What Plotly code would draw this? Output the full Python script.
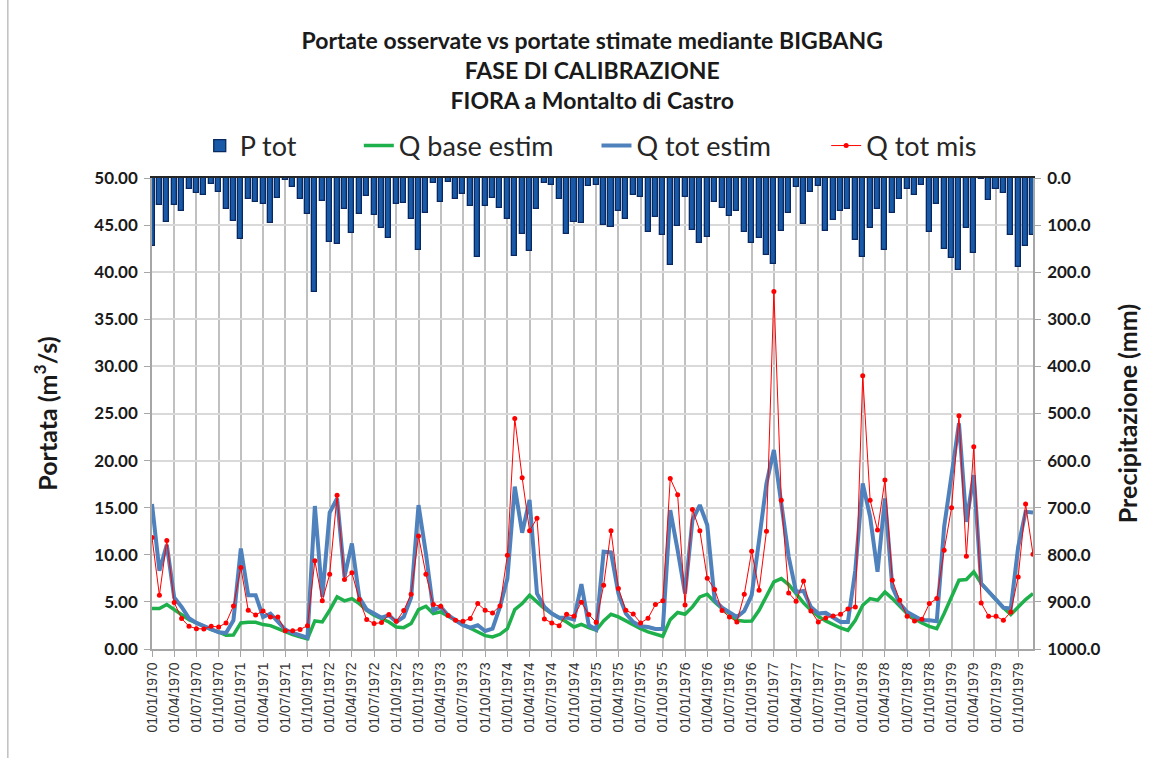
import pandas as pd
import plotly.graph_objects as go

# Monthly series, Jan 1970 - Dec 1979 (index 0..119)
months = list(range(120))

p_tot = [145, 58, 93, 57, 71, 24, 32, 36, 12, 29,
         66, 91, 129, 45, 51, 55, 96, 42, 4, 19,
         44, 76, 241, 48, 136, 141, 66, 116, 76, 39,
         78, 107, 128, 55, 54, 87, 152, 74, 10, 51,
         8, 44, 34, 59, 168, 59, 43, 63, 87, 165,
         118, 156, 66, 11, 14, 44, 119, 93, 95, 16,
         14, 100, 104, 71, 87, 36, 41, 114, 82, 121,
         184, 101, 40, 111, 138, 126, 50, 64, 81, 71,
         114, 137, 127, 163, 183, 113, 74, 19, 98, 30,
         16, 113, 89, 71, 66, 131, 168, 106, 66, 152,
         74, 44, 24, 36, 15, 114, 56, 151, 170, 196,
         106, 160, 2, 47, 24, 31, 121, 189, 144, 122]

q_base_estim = [4.29, 4.29, 4.72, 4.18, 3.65, 3.12, 2.77, 2.41, 2.06, 1.81,
                1.45, 1.49, 2.77, 2.84, 2.84, 2.59, 2.48, 2.16, 1.81, 1.52,
                1.28, 1.06, 2.98, 2.87, 4.11, 5.53, 5.11, 5.35, 4.82, 4.11,
                3.58, 3.23, 2.87, 2.34, 2.27, 2.70, 4.18, 4.54, 3.76, 3.94,
                3.48, 2.98, 2.59, 2.20, 1.81, 1.42, 1.28, 1.56, 2.16, 4.18,
                4.82, 5.71, 5.00, 4.29, 3.76, 3.33, 2.87, 2.34, 2.62, 2.27,
                1.99, 2.98, 3.69, 3.40, 2.98, 2.52, 2.16, 1.81, 1.56, 1.35,
                3.12, 3.87, 3.69, 4.47, 5.53, 5.82, 5.00, 4.29, 3.76, 3.05,
                2.94, 2.98, 4.11, 5.71, 7.12, 7.48, 6.84, 5.88, 4.89, 4.11,
                3.47, 2.98, 2.59, 2.23, 1.98, 3.05, 4.64, 5.35, 5.17, 6.06,
                5.35, 4.54, 3.76, 3.22, 2.76, 2.41, 2.16, 3.76, 5.53, 7.30,
                7.37, 8.19, 6.95, 6.06, 5.17, 4.39, 3.65, 4.46, 5.24, 5.88]

q_tot_estim = [15.39, 8.30, 11.06, 5.46, 4.47, 3.26, 2.77, 2.41, 2.06, 1.77,
               1.70, 3.05, 10.67, 5.71, 5.71, 3.40, 3.76, 2.87, 2.06, 1.70,
               1.45, 1.21, 15.18, 5.53, 14.47, 15.99, 7.66, 11.21, 5.46, 4.18,
               3.76, 3.33, 3.58, 2.87, 3.40, 5.46, 15.28, 10.14, 4.11, 4.47,
               3.58, 3.05, 2.52, 2.27, 2.52, 1.91, 2.16, 4.47, 7.48, 17.23,
               12.34, 15.82, 5.89, 4.47, 3.76, 3.33, 3.33, 3.12, 6.88, 2.52,
               2.06, 10.32, 10.25, 5.89, 3.76, 2.87, 2.41, 2.34, 2.13, 2.13,
               14.75, 10.50, 5.89, 13.69, 15.28, 13.16, 5.18, 4.39, 3.93, 3.40,
               4.04, 5.71, 11.55, 17.58, 21.12, 15.45, 9.78, 6.06, 6.17, 4.46,
               3.76, 3.83, 3.40, 2.87, 2.87, 8.36, 17.58, 14.03, 8.19, 15.98,
               6.59, 4.82, 3.93, 3.47, 3.05, 3.05, 2.94, 12.97, 18.64, 23.95,
               13.50, 18.46, 6.95, 6.06, 5.17, 4.39, 4.29, 10.84, 14.56, 14.49]

q_tot_mis = [11.84, 5.71, 11.52, 4.93, 3.23, 2.41, 2.16, 2.13, 2.41, 2.34,
             2.77, 4.57, 8.65, 4.11, 3.62, 4.04, 3.40, 3.40, 1.95, 1.95,
             2.06, 2.48, 9.36, 5.11, 7.94, 16.31, 7.38, 8.09, 5.25, 3.12,
             2.70, 2.80, 3.65, 2.94, 4.08, 5.82, 11.99, 7.94, 4.72, 4.54,
             3.55, 3.05, 2.94, 3.23, 4.82, 4.11, 3.83, 4.57, 9.96, 24.47,
             18.19, 12.55, 13.87, 3.19, 2.77, 2.48, 3.69, 3.48, 4.96, 3.65,
             2.84, 6.77, 12.55, 6.42, 4.11, 3.72, 2.77, 3.26, 4.72, 5.11,
             18.09, 16.38, 4.68, 14.82, 12.55, 7.52, 6.31, 4.08, 3.40, 2.87,
             5.81, 10.38, 6.24, 12.51, 37.95, 15.80, 5.95, 5.07, 7.23, 4.04,
             2.87, 3.30, 3.51, 3.69, 4.25, 4.46, 29.02, 15.80, 12.62, 17.93,
             7.30, 5.17, 3.47, 2.98, 3.15, 4.82, 5.35, 10.49, 14.99, 24.77,
             9.85, 21.47, 4.89, 3.47, 3.47, 3.05, 3.93, 7.65, 15.38, 10.06]

# Quarterly date labels on the category axis
tick_pos = list(range(0, 120, 3))
tick_labels = [d.strftime("%d/%m/%Y") for d in pd.date_range("1970-01-01", periods=40, freq="3MS")]

TEXT_FONT = "Lato, 'Open Sans', sans-serif"

# plot-area geometry in pixels, used to place the legend entries
PLOT_L, PLOT_W, PLOT_T, PLOT_H = 152, 886, 178, 471


def legend_at(px_left):
    return dict(
        orientation="h", x=(px_left - PLOT_L) / PLOT_W, xanchor="left",
        y=1 + (PLOT_T - 146) / PLOT_H, yanchor="middle",
        font=dict(family=TEXT_FONT, size=27, color="#262626"),
        itemwidth=30, bgcolor="rgba(0,0,0,0)",
    )


fig = go.Figure()

fig.add_trace(go.Bar(
    x=months, y=p_tot, name="P tot", xaxis="x2", yaxis="y2", legend="legend",
    width=0.68,
    marker=dict(color="#1859a8", line=dict(color="#08285f", width=1.3)),
))
fig.add_trace(go.Scatter(
    x=months, y=q_base_estim, name="Q base estim", mode="lines", legend="legend2",
    line=dict(color="#1db04b", width=3.5),
))
fig.add_trace(go.Scatter(
    x=months, y=q_tot_estim, name="Q tot estim", mode="lines", legend="legend3",
    line=dict(color="#4f81bd", width=4),
))
fig.add_trace(go.Scatter(
    x=months, y=q_tot_mis, name="Q tot mis", mode="lines+markers", legend="legend4",
    line=dict(color="#ff0000", width=1),
    marker=dict(color="#ff0000", size=5),
))

fig.update_layout(
    width=1150, height=758,
    margin=dict(l=PLOT_L, r=1150 - PLOT_L - PLOT_W, t=PLOT_T, b=758 - PLOT_T - PLOT_H),
    paper_bgcolor="white", plot_bgcolor="white",
    title=dict(
        text="<b>Portate osservate vs portate stimate mediante BIGBANG<br>FASE DI CALIBRAZIONE<br>FIORA a Montalto di Castro</b>",
        x=0.515, xanchor="center", y=0.935, yanchor="top",
        font=dict(family=TEXT_FONT, size=23, color="#1a1a1a"),
    ),
    legend=legend_at(200),
    legend2=legend_at(360),
    legend3=legend_at(599),
    legend4=legend_at(830),
    showlegend=True,
    xaxis=dict(
        range=[0, 119], tickmode="array", tickvals=tick_pos, ticktext=tick_labels,
        tickangle=-90, tickfont=dict(family="Liberation Sans, Arial, sans-serif", size=14, color="#333333"),
        showgrid=True, gridcolor="#c0c0c0", gridwidth=2,
        showline=True, linecolor="#a6a6a6", linewidth=1.5,
        ticks="outside", ticklen=6, tickcolor="#a6a6a6", zeroline=False,
    ),
    xaxis2=dict(
        range=[0, 119], overlaying="x", side="top", anchor="y2",
        showticklabels=False, showgrid=False, ticks="",
        showline=True, linecolor="#262626", linewidth=1.5, zeroline=False,
    ),
    yaxis=dict(
        range=[0, 50], dtick=5, tickformat=".2f",
        tickfont=dict(family=TEXT_FONT, size=17, color="#1a1a1a", weight="bold"),
        ticklabelstandoff=3,
        title=dict(text="<b>Portata (m<sup>3</sup>/s)</b>", font=dict(family=TEXT_FONT, size=25, color="#1a1a1a"), standoff=30),
        showgrid=True, gridcolor="#d9d9d9", gridwidth=1.5,
        showline=True, linecolor="#a6a6a6", linewidth=1.5,
        ticks="outside", ticklen=6, tickcolor="#a6a6a6", zeroline=False,
    ),
    yaxis2=dict(
        range=[1000, 0], dtick=100, tickformat=".1f", overlaying="y", side="right", anchor="x2",
        tickfont=dict(family=TEXT_FONT, size=17, color="#1a1a1a", weight="bold"),
        ticklabelstandoff=3,
        title=dict(text="<b>Precipitazione (mm)</b>", font=dict(family=TEXT_FONT, size=25, color="#1a1a1a"), standoff=20),
        showgrid=False, showline=True, linecolor="#a6a6a6", linewidth=1.5,
        ticks="outside", ticklen=6, tickcolor="#a6a6a6", zeroline=False,
    ),
    bargap=0,
    shapes=[
        # chart-area frame edge on the left
        dict(type="line", xref="paper", yref="paper",
             x0=-145 / PLOT_W, x1=-145 / PLOT_W, y0=-(758 - PLOT_T - PLOT_H) / PLOT_H, y1=1 + PLOT_T / PLOT_H,
             line=dict(color="#bfbfbf", width=1.5)),
    ],
)

fig.write_html("out.html")
